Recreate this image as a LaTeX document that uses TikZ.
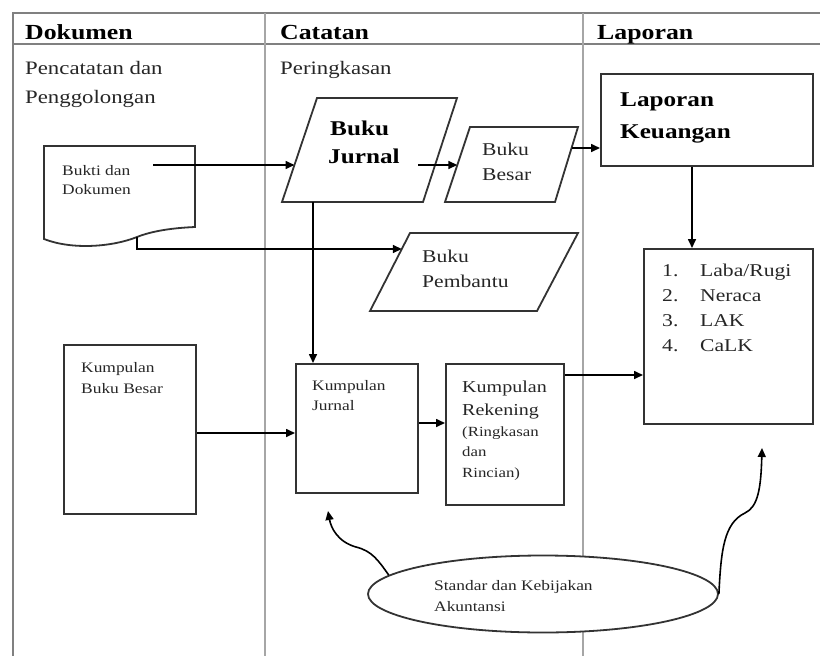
\documentclass[tikz,border=0pt]{standalone}
\usepackage{fontspec}
\setmainfont{Liberation Serif}[FakeStretch=1.2]
\usetikzlibrary{arrows.meta,shapes.geometric}

\begin{document}
\begin{tikzpicture}[x=1pt,y=-1pt,
  frame/.style={draw=black!50, line width=1.6pt},
  divider/.style={draw=black!35, line width=1.3pt},
  box/.style={draw=black!80, line width=1.8pt},
  rectbox/.style={box, rectangle, anchor=north west, inner sep=0pt},
  arr/.style={draw=black, line width=1.6pt, -{Triangle[length=9pt,width=8pt]}},
  txt/.style={anchor=base west, inner sep=0pt, text=black!85},
  hd/.style={txt, text=black, font=\fontsize{21.5}{24}\selectfont\bfseries},
  sub/.style={txt, font=\fontsize{19}{22}\selectfont},
  big/.style={txt, text=black, font=\fontsize{21}{24}\selectfont\bfseries},
  mid/.style={txt, font=\fontsize{18}{21}\selectfont},
  sml/.style={txt, font=\fontsize{14.5}{17}\selectfont},
  rek/.style={txt, font=\fontsize{16.7}{19}\selectfont},
  rin/.style={txt, font=\fontsize{14}{16}\selectfont}]

\useasboundingbox (0,0) rectangle (820,656);

% lanes of the table
\draw[frame] (13,656) -- (13,13) -- (820,13);
\draw[frame] (13,44) -- (820,44);
\draw[divider] (265,13) -- (265,656);
\draw[divider] (583,13) -- (583,656);

\node[hd] (h-dok) at (25,39) {Dokumen};
\node[hd] (h-cat) at (280,39) {Catatan};
\node[hd] (h-lap) at (597,39) {Laporan};
\node[sub] (s-pen1) at (25,74) {Pencatatan dan};
\node[sub] (s-pen2) at (25,103) {Penggolongan};
\node[sub] (s-per) at (280,74) {Peringkasan};

% document symbol
\coordinate (doc-src) at (153,165);
\coordinate (doc-kink) at (137,237);
\draw[box] (44,239) -- (44,146) -- (195,146) -- (195,227)
  .. controls (172,228) and (152,231) .. (doc-kink)
  .. controls (112,247) and (72,250) .. (44,239) -- cycle;
\node[sml] (t-bukti1) at (62,175) {Bukti dan};
\node[sml] (t-bukti2) at (62,194) {Dokumen};

% Buku Jurnal
\coordinate (bj-tl) at (317,98);
\coordinate (bj-tr) at (457,98);
\coordinate (bj-br) at (423,202);
\coordinate (bj-bl) at (282,202);
\coordinate (bj-in) at (294.5,165);
\coordinate (bj-out) at (418,165);
\coordinate (bj-down) at (313,202);
\draw[box] (bj-tl) -- (bj-tr) -- (bj-br) -- (bj-bl) -- cycle;
\node[big] (t-bj1) at (330,135) {Buku};
\node[big] (t-bj2) at (328,163) {Jurnal};

% Buku Besar
\coordinate (bb-tl) at (470,127);
\coordinate (bb-tr) at (578,127);
\coordinate (bb-br) at (555,202);
\coordinate (bb-bl) at (445,202);
\coordinate (bb-in) at (457.3,165);
\coordinate (bb-out) at (571.6,148);
\draw[box] (bb-tl) -- (bb-tr) -- (bb-br) -- (bb-bl) -- cycle;
\node[mid] (t-bb1) at (482,155) {Buku};
\node[mid] (t-bb2) at (482,180) {Besar};

% Buku Pembantu
\coordinate (bp-tl) at (410,233);
\coordinate (bp-tr) at (578,233);
\coordinate (bp-br) at (537,311);
\coordinate (bp-bl) at (370,311);
\coordinate (bp-in) at (401.8,249);
\draw[box] (bp-tl) -- (bp-tr) -- (bp-br) -- (bp-bl) -- cycle;
\node[mid] (t-bp1) at (422,262) {Buku};
\node[mid] (t-bp2) at (422,287) {Pembantu};

% report boxes
\node[rectbox, minimum width=212pt, minimum height=92pt] (lk) at (600,73) {};
\node[big] (t-lk1) at (620,106) {Laporan};
\node[big] (t-lk2) at (620,138) {Keuangan};

\node[rectbox, minimum width=169pt, minimum height=175pt] (lst) at (643,248) {};
\foreach \n/\t/\y in {1/Laba\slash Rugi/276, 2/Neraca/301, 3/LAK/326, 4/CaLK/351} {
  \node[mid] (n-\n) at (662,\y) {\n.};
  \node[mid] (l-\n) at (700,\y) {\t};
}

% ledger and journal boxes
\node[rectbox, minimum width=132pt, minimum height=169pt] (kbb) at (63,344) {};
\node[sml] (t-kbb1) at (81,372) {Kumpulan};
\node[sml] (t-kbb2) at (81,393) {Buku Besar};

\node[rectbox, minimum width=122pt, minimum height=129pt] (kj) at (295,363) {};
\node[sml] (t-kj1) at (312,390) {Kumpulan};
\node[sml] (t-kj2) at (312,410) {Jurnal};

\node[rectbox, minimum width=118pt, minimum height=141pt] (kr) at (445,363) {};
\node[rek] (t-kr1) at (462,392) {Kumpulan};
\node[rek] (t-kr2) at (462,415) {Rekening};
\node[rin] (t-kr3) at (462,436) {(Ringkasan};
\node[rin] (t-kr4) at (462,456) {dan};
\node[rin] (t-kr5) at (462,477) {Rincian)};

% standards ellipse
\node[ellipse, draw=black!80, line width=1.8pt, fill=white, inner sep=0pt,
      minimum width=350pt, minimum height=77pt] (std) at (543,594) {};
\node[sml] (t-std1) at (434,590) {Standar dan Kebijakan};
\node[sml] (t-std2) at (434,611) {Akuntansi};

% connectors
\coordinate (lkdown) at (692,0);
\coordinate (row-kbb) at (0,433);
\coordinate (row-kj) at (0,423);
\coordinate (row-kr) at (0,375);
\draw[arr] (doc-src) -- (bj-in);
\draw[arr] (doc-kink) |- (bp-in);
\draw[arr] (bj-out) -- (bb-in);
\draw[arr] (bb-out) -- (bb-out -| lk.west);
\draw[arr] (lk.south -| lkdown) -- (lst.north -| lkdown);
\draw[arr] (bj-down) -- (kj.north -| bj-down);
\draw[arr] (kbb.east |- row-kbb) -- (kj.west |- row-kbb);
\draw[arr] (kj.east |- row-kj) -- (kr.west |- row-kj);
\draw[arr] (kr.east |- row-kr) -- (lst.west |- row-kr);
\draw[arr] (std.173) .. controls (378,560) and (372,551) .. (356,547)
  .. controls (338,542) and (331,528) .. (328,511);
\draw[arr] (std.east) .. controls (721,550) and (724,523) .. (745,513)
  .. controls (758,507) and (761,488) .. (762,448);
\end{tikzpicture}
\end{document}
